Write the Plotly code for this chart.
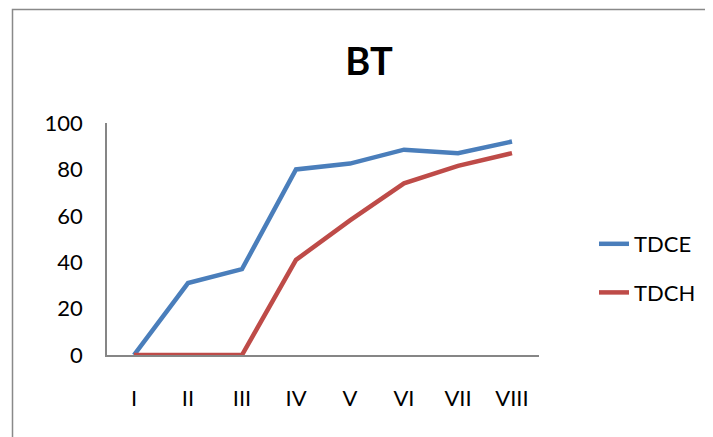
import plotly.graph_objects as go

categories = ["I", "II", "III", "IV", "V", "VI", "VII", "VIII"]
tdce = [0, 31, 37, 80, 82.5, 88.5, 87, 92]
tdch = [0, 0, 0, 41, 58, 74, 81.5, 87]
y_ticks = [0, 20, 40, 60, 80, 100]

OFF = 8  # default page body margin
W, H = 713 - OFF, 437 - OFF
L, R, T, B = 107 - OFF, 539 - OFF, 123 - OFF, 355 - OFF  # plot area pixel bounds in figure

fig = go.Figure()
fig.add_trace(go.Scatter(x=categories, y=tdce, name="TDCE", mode="lines",
                         line=dict(color="#4A7EBB", width=4.5), legendgroup="a"))
fig.add_trace(go.Scatter(x=categories, y=tdch, name="TDCH", mode="lines",
                         line=dict(color="#BE4B48", width=4.5), legendgroup="b"))

pw, ph = R - L, B - T
def px2paper_x(px):
    return (px - OFF - L) / pw
def py2paper_y(py):
    return (B - (py - OFF)) / ph

fig.update_layout(
    width=W, height=H,
    margin=dict(l=L, r=W - R, t=T, b=H - B, pad=0),
    paper_bgcolor="white", plot_bgcolor="white",
    font=dict(family="Lato, Calibri, Arial", size=22, color="black"),
    title=dict(text="<b>BT</b>", x=px2paper_x(369), xref="paper", xanchor="center",
               y=1 - (62 - OFF) / H, yanchor="middle", font=dict(size=38, color="black")),
    xaxis=dict(type="category", range=[-0.5, 7.5], showline=True, linecolor="#868686",
               linewidth=1.5, ticks="", showgrid=False, zeroline=False,
               ticklabelstandoff=23, tickfont=dict(size=22)),
    yaxis=dict(range=[0, 100], tickvals=y_ticks, showline=True, linecolor="#868686",
               linewidth=1.5, ticks="", showgrid=False, zeroline=False,
               ticklabelstandoff=18, tickfont=dict(size=22)),
    legend=dict(x=px2paper_x(594), xanchor="left", y=py2paper_y(223), yanchor="top",
                tracegroupgap=17, font=dict(size=22), bgcolor="rgba(0,0,0,0)"),
    showlegend=True,
)

fig.add_shape(type="rect", xref="paper", yref="paper",
              x0=px2paper_x(12.5), x1=px2paper_x(800), y0=py2paper_y(500), y1=py2paper_y(9.5),
              line=dict(color="#898989", width=1.5), fillcolor="rgba(0,0,0,0)", layer="below")

fig.write_html("out.html")
